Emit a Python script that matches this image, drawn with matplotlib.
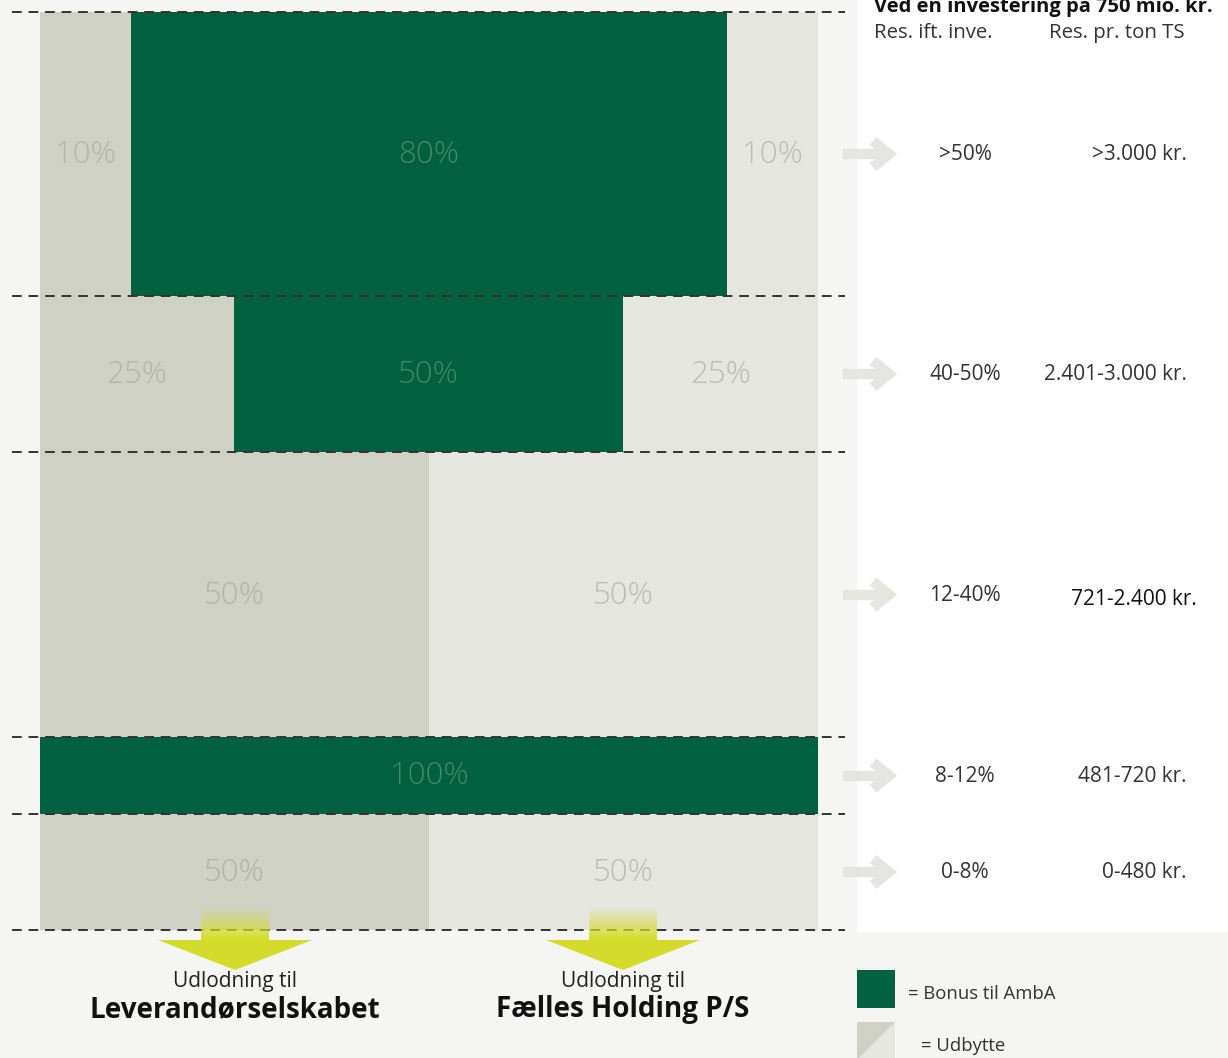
import numpy as np
import matplotlib
matplotlib.use("Agg")
import matplotlib.pyplot as plt
from matplotlib.patches import Rectangle, Polygon

# ---------------- data ----------------
row_ranges = [">50%", "40-50%", "12-40%", "8-12%", "0-8%"]
row_per_ton = [">3.000 kr.", "2.401-3.000 kr.", "721-2.400 kr.", "481-720 kr.", "0-480 kr."]
row_shares = [[10, 80, 10], [25, 50, 25], [50, 50], [100], [50, 50]]
row_kinds = [["udl", "bonus", "udr"], ["udl", "bonus", "udr"], ["udl", "udr"], ["bonus"], ["udl", "udr"]]
header = "Ved en investering på 750 mio. kr."
col_heads = ["Res. ift. inve.", "Res. pr. ton TS"]
targets = ["Leverandørselskabet", "Fælles Holding P/S"]
legend_labels = ["= Bonus til AmbA", "= Udbytte"]

# ---------------- layout / style ----------------
W, H = 1228, 1058
row_edges = [12, 296, 452, 737, 814, 930]
row_xedges = [[40, 131, 727, 818], [40, 234, 623, 818], [40, 429, 818], [40, 818], [40, 429, 818]]
GREEN = "#00603f"
DARK = "#cfd1c5"
LIGHT = "#e6e6e1"
BG = "#f5f5f3"
YELLOW = "#d3dc2a"
kind_color = {"bonus": GREEN, "udl": DARK, "udr": LIGHT}
kind_text = {"bonus": "#3f8a68", "udl": "#b3b5aa", "udr": "#bdbdb6"}
FONT = ["Open Sans", "DejaVu Sans"]
plt.rcParams["font.family"] = FONT

fig = plt.figure(figsize=(W / 100, H / 100), dpi=100, facecolor=BG)
ax = fig.add_axes([0, 0, 1, 1])
ax.set_xlim(0, W)
ax.set_ylim(H, 0)
ax.axis("off")
ax.set_facecolor(BG)

# white panel on the right
ax.add_patch(Rectangle((857, 0), W - 857, 932, color="white", lw=0, zorder=0))

# bars
for i, (shares, kinds) in enumerate(zip(row_shares, row_kinds)):
    y0, y1 = row_edges[i], row_edges[i + 1]
    xe = row_xedges[i]
    for j, (s, k) in enumerate(zip(shares, kinds)):
        x0, x1 = xe[j], xe[j + 1]
        ax.add_patch(Rectangle((x0, y0), x1 - x0, y1 - y0, color=kind_color[k], lw=0, zorder=1))
        ax.text((x0 + x1) / 2, (y0 + y1) / 2 + 1, f"{s}%", ha="center", va="center",
                fontsize=22.5, color=kind_text[k], fontweight="light", zorder=3)
    yc = (y0 + y1) / 2
    # right-side arrow
    ax.plot([843, 886], [yc, yc], color=LIGHT, lw=7.5, solid_capstyle="butt", zorder=2)
    ax.plot([873, 889, 873], [yc - 13, yc, yc - 13 + 26], color=LIGHT, lw=7.5,
            solid_joinstyle="miter", solid_capstyle="butt", zorder=2)
    ax.text(965, yc + 1, row_ranges[i], ha="center", va="center", fontsize=15, color="#333333")
    col = "#111111" if i == 2 else "#333333"
    xr = 1197 if i == 2 else 1187
    ax.text(xr, yc + (5 if i == 2 else 1), row_per_ton[i], ha="right", va="center",
            fontsize=15, color=col)

# dashed lines
for y in row_edges:
    ax.plot([12, 845], [y, y], color="#333333", lw=1.4, ls=(0, (5, 3.5)), zorder=4)

# header
ax.text(874, 6, header, ha="left", va="center", fontsize=14.5, fontweight="bold", color="#111111")
ax.text(874, 33, col_heads[0], ha="left", va="center", fontsize=14.7, color="#333333")
ax.text(1049, 33, col_heads[1], ha="left", va="center", fontsize=14.7, color="#333333")

# yellow arrows
grad = np.zeros((40, 2, 4))
rgb = matplotlib.colors.to_rgb(YELLOW)
grad[..., :3] = rgb
grad[..., 3] = np.linspace(0.05, 1.0, 40)[:, None]
for cx, name in zip([235, 623], targets):
    ax.imshow(grad, extent=(cx - 34, cx + 34, 940, 908), aspect="auto", zorder=5,
              interpolation="bilinear")
    ax.add_patch(Polygon([(cx - 77, 940), (cx + 77, 940), (cx, 970)], closed=True,
                         color=YELLOW, lw=0, zorder=5))
    ax.text(cx, 982, "Udlodning til", ha="center", va="center", fontsize=15, color="#222222")
    ax.text(cx, 1010, name, ha="center", va="center", fontsize=20, fontweight="bold", color="#111111")
ax.set_xlim(0, W)
ax.set_ylim(H, 0)

# legend
ax.add_patch(Rectangle((857, 970), 38, 38, color=GREEN, lw=0, zorder=5))
ax.add_patch(Polygon([(857, 1022), (895, 1022), (895, 1060), (857, 1060)], closed=True,
                     color=LIGHT, lw=0, zorder=5))
ax.add_patch(Polygon([(895, 1022), (857, 1022), (857, 1060)], closed=True,
                     color=DARK, lw=0, zorder=6))
ax.text(908, 994, legend_labels[0], ha="left", va="center", fontsize=13.3, color="#333333")
ax.text(921, 1046, legend_labels[1], ha="left", va="center", fontsize=13.3, color="#333333")

fig.savefig("out.png", dpi=100, facecolor=BG)
